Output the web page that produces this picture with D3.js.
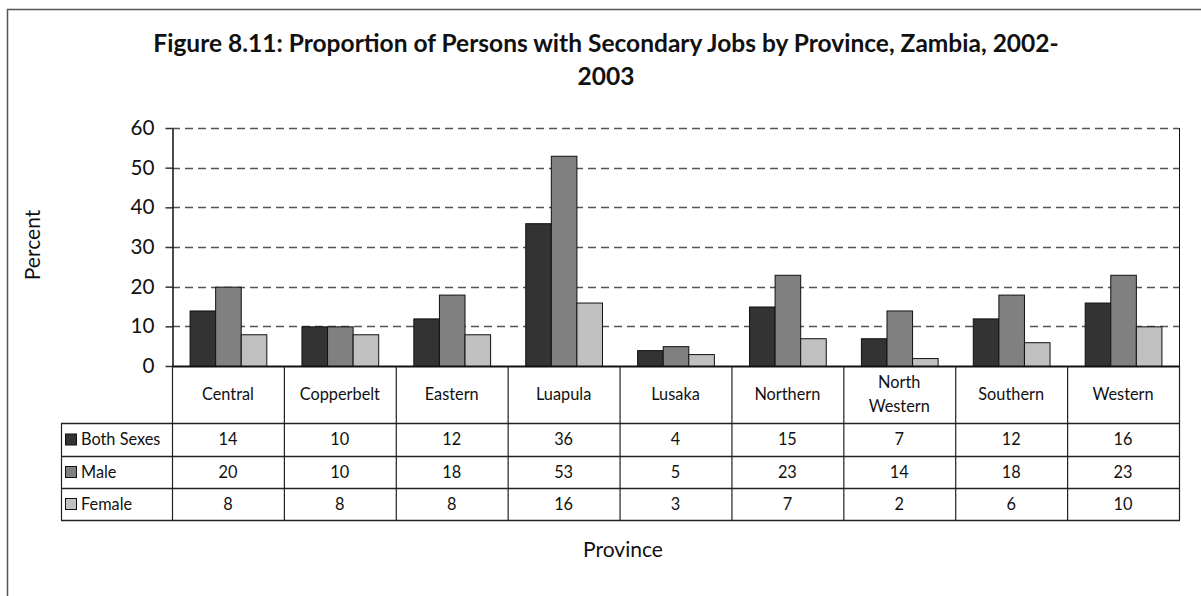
<!DOCTYPE html>
<html>
<head>
<meta charset="utf-8">
<script src="https://cdn.jsdelivr.net/npm/d3@7"></script>
<style>
  html, body { margin: 0; padding: 0; background: #fff; }
  svg { display: block; }
  text { font-family: Lato, "Open Sans", sans-serif; fill: #111; }
</style>
</head>
<body>
<svg id="chart" width="1201" height="596"></svg>
<script>
const categories = ["Central","Copperbelt","Eastern","Luapula","Lusaka","Northern","North Western","Southern","Western"];
const categoryLines = [["Central"],["Copperbelt"],["Eastern"],["Luapula"],["Lusaka"],["Northern"],["North","Western"],["Southern"],["Western"]];
const seriesNames = ["Both Sexes","Male","Female"];
const bothSexes = [14,10,12,36,4,15,7,12,16];
const male = [20,10,18,53,5,23,14,18,23];
const female = [8,8,8,16,3,7,2,6,10];
const yTicks = [0,10,20,30,40,50,60];
const titleLines = ["Figure 8.11: Proportion of Persons with Secondary Jobs by Province, Zambia, 2002-", "2003"];

(function () {
const seriesValues = [bothSexes, male, female];
const colors = ["#333333","#808080","#c0c0c0"];

const svg = d3.select("#chart");

function fitSize(text, target, weight) {
  const t = svg.append("text").attr("font-size", 100).attr("font-weight", weight || "normal").text(text);
  const w = t.node().getComputedTextLength();
  t.remove();
  return 100 * target / w;
}

// outer frame
svg.append("rect").attr("x", 7.5).attr("y", 9.5).attr("width", 1220).attr("height", 620)
  .attr("fill", "none").attr("stroke", "#555").attr("stroke-width", 1.5);

const pLeft = 172, pRight = 1179, pTop = 128, zero = 366;
const tableLeft = 61;
const headerBottom = 423;
const rowBounds = [423, 456, 488, 520];

const x = d3.scaleBand().domain(categories).range([pLeft, pRight]).paddingInner(0).paddingOuter(0);
const x1 = d3.scaleBand().domain(seriesNames).range([x.bandwidth()*0.157, x.bandwidth()*0.843]).padding(0);
const y = d3.scaleLinear().domain([0, 60]).range([zero, pTop]);

// title
const titleSize = fitSize(titleLines[0], 906, "bold");
svg.append("text").attr("x", 606).attr("y", 52).attr("text-anchor", "middle")
  .attr("font-weight", "bold").attr("font-size", titleSize).text(titleLines[0]);
svg.append("text").attr("x", 606).attr("y", 85).attr("text-anchor", "middle")
  .attr("font-weight", "bold").attr("font-size", titleSize).text(titleLines[1]);

// gridlines
svg.append("g").selectAll("line").data(yTicks.filter(d => d > 0)).join("line")
  .attr("x1", pLeft).attr("x2", pRight).attr("y1", d => Math.round(y(d)) + 0.5).attr("y2", d => Math.round(y(d)) + 0.5)
  .attr("stroke", "#555").attr("stroke-width", 1.5).attr("stroke-dasharray", "8,5");

// right frame of plot
svg.append("line").attr("x1", pRight + 0.5).attr("x2", pRight + 0.5).attr("y1", pTop).attr("y2", zero)
  .attr("stroke", "#111").attr("stroke-width", 1);

// y axis
const tickFont = fitSize("60", 24);
const yAxis = d3.axisLeft(y).tickValues(yTicks).tickSize(7).tickPadding(11).tickSizeOuter(0);
const yg = svg.append("g").attr("transform", `translate(${pLeft + 0.5},0)`).call(yAxis);
yg.select(".domain").attr("stroke", "#111").attr("stroke-width", 1.5);
yg.selectAll(".tick line").attr("stroke", "#333").attr("stroke-width", 1.5);
yg.selectAll(".tick text").attr("font-size", tickFont).attr("font-family", "Lato, 'Open Sans', sans-serif").attr("fill", "#111");

// bars
const groups = svg.append("g").selectAll("g").data(categories).join("g")
  .attr("transform", d => `translate(${x(d)},0)`);
groups.selectAll("rect").data((c, i) => seriesNames.map((s, j) => ({s, j, v: seriesValues[j][i]}))).join("rect")
  .attr("x", d => x1(d.s) + 0.5)
  .attr("y", d => y(d.v) + 0.5)
  .attr("width", x1.bandwidth())
  .attr("height", d => zero - y(d.v))
  .attr("fill", d => colors[d.j])
  .attr("stroke", "#111").attr("stroke-width", 1);

// x axis baseline
svg.append("line").attr("x1", pLeft).attr("x2", pRight + 1).attr("y1", zero + 0.5).attr("y2", zero + 0.5)
  .attr("stroke", "#111").attr("stroke-width", 2);

// table
const tableG = svg.append("g");
const lineColor = "#222";
const vx = categories.map(c => x(c)).concat([pRight]);
tableG.selectAll("line.v").data(vx).join("line").attr("class", "v")
  .attr("x1", d => d + 0.5).attr("x2", d => d + 0.5).attr("y1", zero).attr("y2", rowBounds[3])
  .attr("stroke", lineColor).attr("stroke-width", 1.2);
tableG.append("line").attr("x1", tableLeft + 0.5).attr("x2", tableLeft + 0.5).attr("y1", headerBottom).attr("y2", rowBounds[3])
  .attr("stroke", lineColor).attr("stroke-width", 1.2);
tableG.selectAll("line.h").data(rowBounds).join("line").attr("class", "h")
  .attr("x1", tableLeft).attr("x2", pRight + 1).attr("y1", d => d + 0.5).attr("y2", d => d + 0.5)
  .attr("stroke", lineColor).attr("stroke-width", 1.5);

const cellFont = fitSize("Central", 52);
categories.forEach((c, i) => {
  const lines = categoryLines[i];
  const cx = x(c) + x.bandwidth() / 2;
  const cy = (zero + headerBottom) / 2;
  const lh = 24;
  lines.forEach((ln, k) => {
    tableG.append("text").attr("x", cx).attr("y", cy + (k - (lines.length - 1) / 2) * lh + cellFont * 0.35)
      .attr("text-anchor", "middle").attr("font-size", cellFont).text(ln);
  });
});

seriesNames.forEach((s, j) => {
  const cy = (rowBounds[j] + rowBounds[j + 1]) / 2;
  tableG.append("rect").attr("x", 65.5).attr("y", cy - 5.5).attr("width", 11).attr("height", 11)
    .attr("fill", colors[j]).attr("stroke", "#111").attr("stroke-width", 1);
  tableG.append("text").attr("x", 81).attr("y", cy + cellFont * 0.35).attr("font-size", cellFont).text(s);
  categories.forEach((c, i) => {
    tableG.append("text").attr("x", x(c) + x.bandwidth() / 2).attr("y", cy + cellFont * 0.35)
      .attr("text-anchor", "middle").attr("font-size", cellFont).text(seriesValues[j][i]);
  });
});

const labFont = fitSize("Province", 80);
svg.append("text").attr("x", 623).attr("y", 557).attr("text-anchor", "middle").attr("font-size", labFont).text("Province");
svg.append("text").attr("transform", "translate(40,245) rotate(-90)").attr("text-anchor", "middle")
  .attr("font-size", labFont).text("Percent");
})();
</script>
</body>
</html>
